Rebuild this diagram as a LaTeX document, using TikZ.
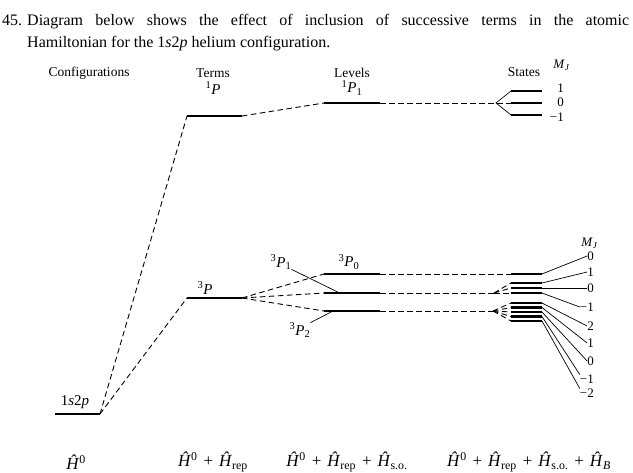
\documentclass[tikz,border=0pt]{standalone}
\usepackage{fontspec}
\setmainfont{Liberation Serif}
\usetikzlibrary{positioning, calc}
\tikzset{
  lvl/.style ={line width=2.3pt},
  conn/.style={line width=0.9pt, dash pattern=on 5.5pt off 3.5pt},
  lead/.style={line width=0.7pt},
  head/.style={font=\fontsize{13.5}{15}\selectfont, inner sep=0pt},
  term/.style={font=\fontsize{15}{17}\selectfont, inner sep=0pt},
  mj/.style  ={font=\fontsize{13}{15}\selectfont, inner sep=0pt, anchor=east},
  ham/.style ={font=\fontsize{17}{20}\selectfont, inner sep=0pt},
}
\newcommand{\Hh}{\textit{\^{H}}}
\newcommand{\MJ}{\textit{M}\textsubscript{\textit{J}}}
\newcommand{\pl}{\hspace{0.35em}+\hspace{0.35em}}

\begin{document}
\begin{tikzpicture}[x=1pt, y=-1pt]
\useasboundingbox (0,0) rectangle (633,473);
\def\cl{55}  \def\cr{100}  % configuration x
\def\tl{187} \def\tr{242}  % terms x
\def\ll{324} \def\lr{380}  % levels x
\def\sl{511} \def\sr{542}  % states x

% title
\node[anchor=base west, font=\fontsize{16}{22}\selectfont, inner sep=0pt] (num) at (2,26) {45.};
\node[anchor=north west, text width=602pt, align=justify, font=\fontsize{16}{22}\selectfont, inner sep=0pt] (title) at (27,14.5)
  {Diagram below shows the effect of inclusion of successive terms in the atomic\linebreak
   Hamiltonian for the 1\textit{s}2\textit{p} helium configuration.};

% column heads
\node[head] (hcfg)  at (89,73)  {Configurations};
\node[head] (hterm) at (213,73) {Terms};
\node[head] (hlev)  at (352,73) {Levels};
\node[head] (hsta)  at (524,72) {States};
\node[mj]   (mjs)   at (570,65) {\MJ};

% ---- configuration ----
\coordinate (cfgA) at (\cl,414); \coordinate (cfgB) at (\cr,414);
\draw[lvl] (cfgA)--(cfgB);
\node[term] (lcfg) at (75,402) {1\textit{s}2\textit{p}};

% ---- terms ----
\coordinate (tsA) at (\tl,116); \coordinate (tsB) at (\tr,116);
\coordinate (ttA) at (\tl,298); \coordinate (ttB) at (\tr,298);
\draw[lvl] (tsA)--(tsB); \draw[lvl] (ttA)--(ttB);
\draw[conn] (cfgB)--(tsA); \draw[conn] (cfgB)--(ttA);
\node[term] (l1P) at (213,88)  {\textsuperscript{1}\textit{P}};
\node[term] (l3P) at (205,288) {\textsuperscript{3}\textit{P}};

% ---- levels ----
\coordinate (lsA) at (\ll,103); \coordinate (lsB) at (\lr,103);
\draw[lvl] (lsA)--(lsB);
\draw[conn] (tsB)--(lsA);
\foreach \n/\y in {0/274,1/293,2/311}{
  \coordinate (lt\n A) at (\ll,\y); \coordinate (lt\n B) at (\lr,\y);
  \draw[lvl] (lt\n A)--(lt\n B);
  \draw[conn] (ttB)--(lt\n A);
}
\node[term] (l1P1) at (352,88)  {\textsuperscript{1}\textit{P}\textsubscript{1}};
\node[term] (l3P1) at (281,262) {\textsuperscript{3}\textit{P}\textsubscript{1}};
\node[term] (l3P0) at (349,262) {\textsuperscript{3}\textit{P}\textsubscript{0}};
\node[term] (l3P2) at (300,330) {\textsuperscript{3}\textit{P}\textsubscript{2}};
\draw[lead] (l3P1.south east)--($(lt1A)!.28!(lt1B)$);
\draw[lead] (l3P2.north east)--($(lt2A)!.16!(lt2B)$);

% ---- states: singlet ----
\coordinate (brS) at (496,103);
\foreach \n/\y in {1/91,2/103,3/115}{
  \coordinate (ss\n A) at (\sl,\y); \coordinate (ss\n B) at (\sr,\y);
  \draw[lvl] (ss\n A)--(ss\n B);
}
\draw[conn] (lsB)--(ss2A);
\draw[lead] (ss1A)--(brS)--(ss3A);
\node[mj] (ms1) at (564,88)  {1};
\node[mj] (ms2) at (564,102) {0};
\node[mj] (ms3) at (564,117) {−1};

% ---- states: triplet ----
\coordinate (br1) at (494,293);
\coordinate (br2) at (493,311);
\coordinate (st0A) at (\sl,274); \coordinate (st0B) at (\sr,274);
\draw[lvl] (st0A)--(st0B);
\draw[conn] (lt0B)--(st0A);
\foreach \n/\y in {1/283,2/288,3/293}{
  \coordinate (sp\n A) at (\sl,\y); \coordinate (sp\n B) at (\sr,\y);
  \draw[lvl] (sp\n A)--(sp\n B);
  \draw[conn] (br1)--(sp\n A);
}
\foreach \n/\y in {1/303,2/307.5,3/312,4/316.5,5/321}{
  \coordinate (sq\n A) at (\sl,\y); \coordinate (sq\n B) at (\sr,\y);
  \draw[lvl] (sq\n A)--(sq\n B);
  \draw[conn] (br2)--(sq\n A);
}
\draw[conn] (lt1B)--(br1);
\draw[conn] (lt2B)--(br2);

\node[mj] (mjt) at (598,243) {\MJ};
\foreach \n/\y/\t in {a/256/0, b/272/1, c/288/0, d/307/−1, e/326/2, f/343/1, g/361/0, h/379/−1, i/393/−2}
  \node[mj] (m\n) at (594,\y) {\t};
\draw[lead] (st0B)--(ma.west);
\draw[lead] (sp1B)--(mb.west);
\draw[lead] (sp2B)--(mc.west);
\draw[lead] (sp3B)--(md.west);
\draw[lead] (sq1B)--(me.west);
\draw[lead] (sq2B)--(mf.west);
\draw[lead] (sq3B)--(mg.west);
\draw[lead] (sq4B)--(mh.north west);
\draw[lead] (sq5B)--(mi.north west);

% ---- hamiltonians ----
\node[ham] (h0) at (76,462)  {\Hh\textsuperscript{0}};
\node[ham] (h1) at (213,462) {\Hh\textsuperscript{0}\pl\Hh\textsubscript{rep}};
\node[ham] (h2) at (347,462) {\Hh\textsuperscript{0}\pl\Hh\textsubscript{rep}\pl\Hh\textsubscript{s.o.}};
\node[ham] (h3) at (529,462) {\Hh\textsuperscript{0}\pl\Hh\textsubscript{rep}\pl\Hh\textsubscript{s.o.}\pl\Hh\textsubscript{\textit{B}}};
\end{tikzpicture}
\end{document}
